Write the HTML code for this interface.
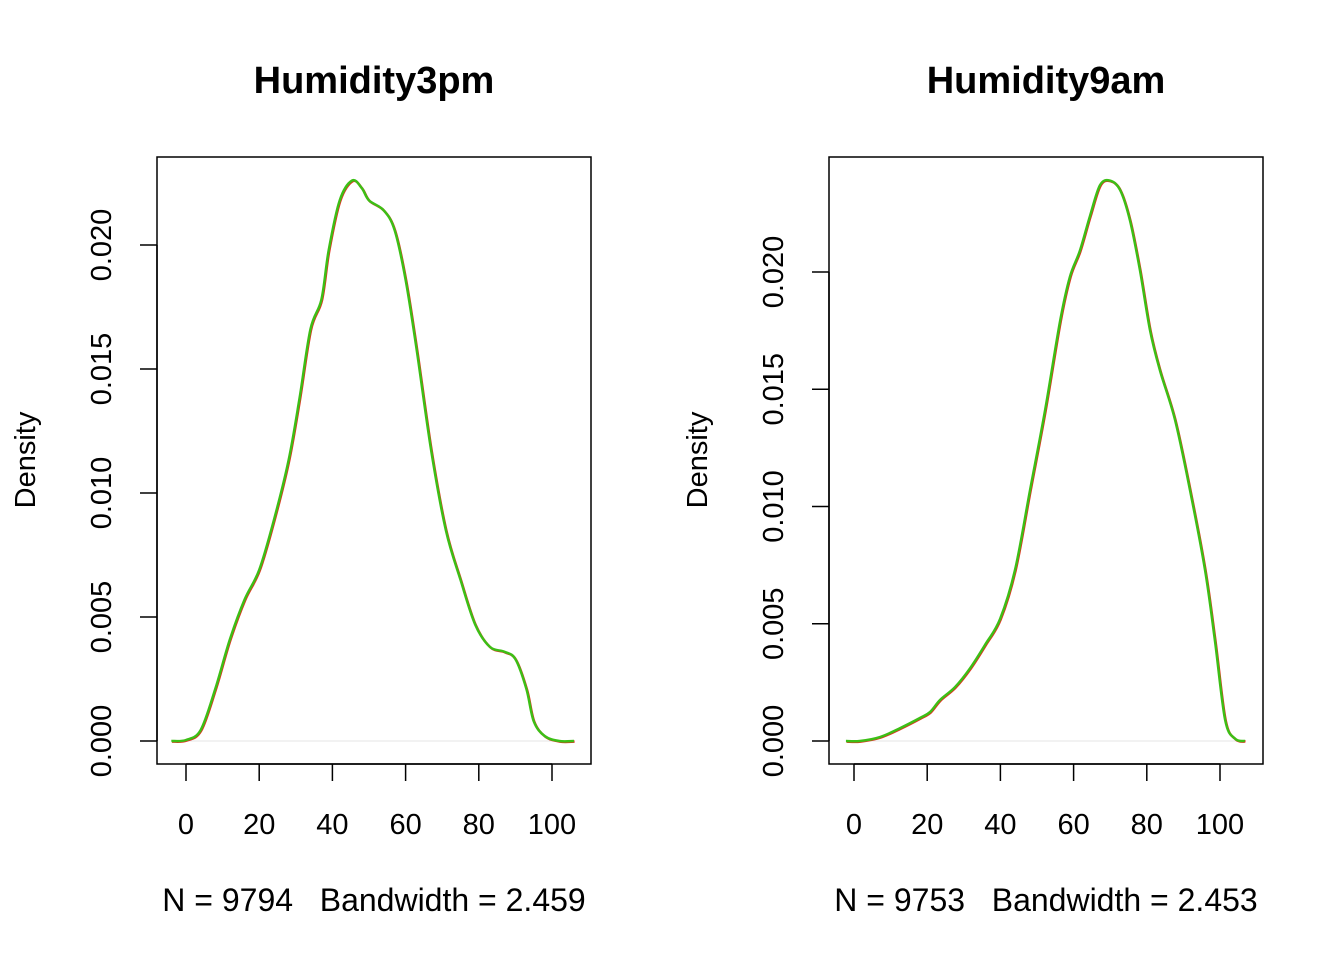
<!DOCTYPE html>
<html><head><meta charset="utf-8"><style>
html,body{margin:0;padding:0;background:#fff;}
svg{display:block;font-family:"Liberation Sans",Arial,sans-serif;}
</style></head><body>
<svg id="chart" width="1344" height="960" viewBox="0 0 1344 960"></svg>
<script>
const leftX=[-4,0,4,8,12,16,20,24,28,31,34,37,39,42,45.4,48,50,54,57,60,63,67,71,75,79,83,87,90,93,95,98,102,106];
const leftY=[0,0.00004,0.00044,0.0021,0.0041,0.0057,0.0069,0.0089,0.0113,0.0138,0.0166,0.0178,0.0198,0.0218,0.0226,0.0223,0.0218,0.0214,0.0206,0.0186,0.0158,0.0117,0.0085,0.0065,0.0047,0.0038,0.0036,0.0033,0.0021,0.0008,0.0002,0,0];
const rightX=[-2.2,1.6,7.1,12.6,18,20.8,23.5,27.6,31.7,35.8,39.9,44,48.1,52.2,56.3,59,61.7,64.5,67.2,69.9,72.7,75.4,78.1,80.9,83.6,87.7,91.8,95.9,98.6,101.4,104.1,106.8];
const rightY=[0,0,0.00017,0.00055,0.00098,0.00124,0.00175,0.0023,0.0031,0.0041,0.0052,0.0073,0.0107,0.0141,0.0179,0.0198,0.0209,0.0224,0.0237,0.0239,0.0235,0.0222,0.0201,0.0175,0.0158,0.0137,0.0107,0.0073,0.0043,0.0009,0.0001,0];
const xTicks=[0,20,40,60,80,100];
const yTicks=[0,0.005,0.01,0.015,0.02];
const yTickLabels=["0.000","0.005","0.010","0.015","0.020"];
const panels=[
 {name:"humidity3pm",title:"Humidity3pm",sub:"N = 9794   Bandwidth = 2.459",xs:leftX,ys:leftY,box:[157,157,591,764],x0:186,y0:741,kx:3.66,ky:24800},
 {name:"humidity9am",title:"Humidity9am",sub:"N = 9753   Bandwidth = 2.453",xs:rightX,ys:rightY,box:[829,157,1263,764],x0:854,y0:741,kx:3.66,ky:23450}
];
const svg=document.getElementById('chart');
const NS="http://www.w3.org/2000/svg";
function mk(tag,attrs,parent){const e=document.createElementNS(NS,tag);for(const k in attrs)e.setAttribute(k,attrs[k]);(parent||svg).appendChild(e);return e;}
function smooth(pts){let d=`M${pts[0][0]},${pts[0][1]}`;for(let i=0;i<pts.length-1;i++){const p0=pts[Math.max(0,i-1)],p1=pts[i],p2=pts[i+1],p3=pts[Math.min(pts.length-1,i+2)];const c1=[p1[0]+(p2[0]-p0[0])/6,p1[1]+(p2[1]-p0[1])/6],c2=[p2[0]-(p3[0]-p1[0])/6,p2[1]-(p3[1]-p1[1])/6];d+=` C${c1[0]},${c1[1]} ${c2[0]},${c2[1]} ${p2[0]},${p2[1]}`;}return d;}
panels.forEach(p=>{
 const g=mk('g',{});
 
 
 const X=v=>p.x0+v*p.kx, Y=v=>p.y0-v*p.ky;
 const [l,t,r,b]=p.box;
 const cx=(l+r)/2;
 const ti=mk('text',{x:cx,y:93,'text-anchor':'middle','font-size':38,'font-weight':'bold'},g);ti.textContent=p.title;
 
 const fr=mk('rect',{x:l,y:t,width:r-l,height:b-t,fill:'none',stroke:'#000','stroke-width':1.5},g);
 
 const zl=mk('line',{x1:X(p.xs[0]),x2:X(p.xs[p.xs.length-1]),y1:Y(0),y2:Y(0),stroke:'#e5e5e5','stroke-width':1},g);
 
 const xa=mk('g',{},g);
 mk('line',{x1:X(xTicks[0]),x2:X(xTicks[xTicks.length-1]),y1:b,y2:b,stroke:'#000','stroke-width':1.5},xa);
 xTicks.forEach(v=>{mk('line',{x1:X(v),x2:X(v),y1:b,y2:b+17,stroke:'#000','stroke-width':1.5},xa);
  const tx=mk('text',{x:X(v),y:834,'text-anchor':'middle','font-size':29},xa);tx.textContent=v;
  });
 const ya=mk('g',{},g);
 mk('line',{x1:l,x2:l,y1:Y(yTicks[0]),y2:Y(yTicks[yTicks.length-1]),stroke:'#000','stroke-width':1.5},ya);
 yTicks.forEach((v,i)=>{mk('line',{x1:l-17,x2:l,y1:Y(v),y2:Y(v),stroke:'#000','stroke-width':1.5},ya);
  const tx=mk('text',{x:0,y:0,'text-anchor':'middle','font-size':29,transform:`translate(${l-46},${Y(v)}) rotate(-90)`},ya);tx.textContent=yTickLabels[i];
  });
 const yt=mk('text',{x:0,y:0,'text-anchor':'middle','font-size':29,transform:`translate(${l-122},460) rotate(-90)`},g);yt.textContent="Density";
 
 const st=mk('text',{x:cx,y:911,'text-anchor':'middle','font-size':32,style:'white-space:pre'},g);st.textContent=p.sub;
 
 const pts=p.xs.map((v,i)=>[X(v),Y(p.ys[i])]);
 const d=smooth(pts);
 const red=mk('path',{d:d,fill:'none',stroke:'#e0301e','stroke-width':2.5,transform:'translate(0.6,0.6)'},g);
 
 const gr=mk('path',{d:d,fill:'none',stroke:'#3cbf16','stroke-width':2.5},g);
 
});
</script>
</body></html>
